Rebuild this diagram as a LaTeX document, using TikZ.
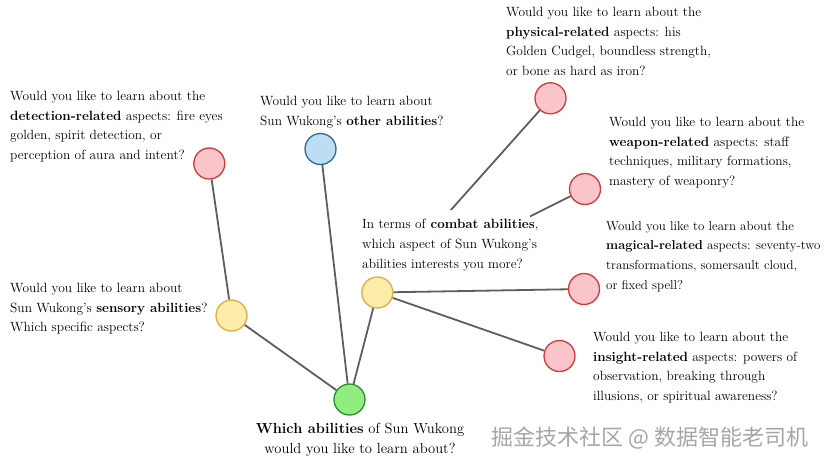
\documentclass[tikz,border=0pt]{standalone}
\usepackage{fontspec}
\newfontfamily\cjkfont{Noto Sans CJK SC}
\definecolor{linegray}{HTML}{5E5E5E}
\definecolor{redfill}{HTML}{F9C4CA}
\definecolor{redline}{HTML}{D23A3A}
\definecolor{bluefill}{HTML}{BDDDF3}
\definecolor{blueline}{HTML}{2F6A9A}
\definecolor{yelfill}{HTML}{FDEDAA}
\definecolor{yelline}{HTML}{E3A94A}
\definecolor{grnfill}{HTML}{8FEE7F}
\definecolor{grnline}{HTML}{2E8B2E}
\definecolor{wmgray}{HTML}{A6A6A6}
\pgfdeclarelayer{edges}
\pgfdeclarelayer{mask}
\pgfsetlayers{edges,mask,main}
\tikzset{
  dot/.style={circle, minimum size=31pt, inner sep=0pt, line width=1.3pt},
  reddot/.style={dot, draw=redline, fill=redfill},
  bluedot/.style={dot, draw=blueline, fill=bluefill},
  yeldot/.style={dot, draw=yelline, fill=yelfill},
  grndot/.style={dot, draw=grnline, fill=grnfill},
  link/.style={draw=linegray, line width=1.8pt},
  qtext/.style={anchor=north west, inner sep=0pt, align=left, font=\fontsize{13.4}{19.7}\selectfont},
}
\begin{document}
\begin{tikzpicture}[x=1pt, y=-1pt]
\useasboundingbox (0,0) rectangle (825,466);
% nodes
\node[grndot] (root) at (349.5,399.5) {};
\node[yeldot] (sensory) at (231.5,315.5) {};
\node[bluedot] (other) at (320.5,149) {};
\node[yeldot] (combat) at (377.3,292.5) {};
\node[reddot] (detect) at (209.3,163.5) {};
\node[reddot] (phys) at (550.5,98.3) {};
\node[reddot] (weapon) at (585,189) {};
\node[reddot] (magic) at (584,289) {};
\node[reddot] (insight) at (559.5,356) {};
% connectors
\begin{pgfonlayer}{edges}
\draw[link] (root) -- (sensory);
\draw[link] (root) -- (other);
\draw[link] (root) -- (combat);
\draw[link] (sensory) -- (detect);
\draw[link] (combat) -- (phys);
\draw[link] (combat) -- (weapon);
\draw[link] (combat) -- (magic);
\draw[link] (combat) -- (insight);
\end{pgfonlayer}
% white background behind the combat label
\begin{pgfonlayer}{mask}
\fill[white] (356,210) rectangle (530,288);
\end{pgfonlayer}
% labels
\node[qtext] (tdetect) at (10,91) {Would you like to learn about the\\\textbf{detection-related} aspects: fire eyes\\golden, spirit detection, or\\perception of aura and intent?};
\node[qtext] (tother) at (260,96) {Would you like to learn about\\Sun Wukong’s \textbf{other abilities}?};
\node[qtext] (tphys) at (506,7) {Would you like to learn about the\\\textbf{physical-related} aspects: his\\Golden Cudgel, boundless strength,\\or bone as hard as iron?};
\node[qtext] (tweapon) at (609,117) {Would you like to learn about the\\\textbf{weapon-related} aspects: staff\\techniques, military formations,\\mastery of weaponry?};
\node[qtext] (tcombat) at (362,219) {In terms of \textbf{combat abilities},\\which aspect of Sun Wukong’s\\abilities interests you more?};
\node[qtext, font=\fontsize{12.9}{19.7}\selectfont] (tmagic) at (606,221) {Would you like to learn about the\\\textbf{magical-related} aspects: seventy-two\\transformations, somersault cloud,\\or fixed spell?};
\node[qtext] (tsensory) at (10,283) {Would you like to learn about\\Sun Wukong’s \textbf{sensory abilities}?\\Which specific aspects?};
\node[qtext] (tinsight) at (593,332) {Would you like to learn about the\\\textbf{insight-related} aspects: powers of\\observation, breaking through\\illusions, or spiritual awareness?};
\node[qtext, anchor=north, align=center, font=\fontsize{14.6}{20}\selectfont] (troot) at (360,423) {\textbf{Which abilities} of Sun Wukong\\would you like to learn about?};
\node[inner sep=0pt, text=wmgray, font=\cjkfont\fontsize{22}{22}\selectfont] (wm) at (650,438) {掘金技术社区 @ 数据智能老司机};
\end{tikzpicture}
\end{document}
